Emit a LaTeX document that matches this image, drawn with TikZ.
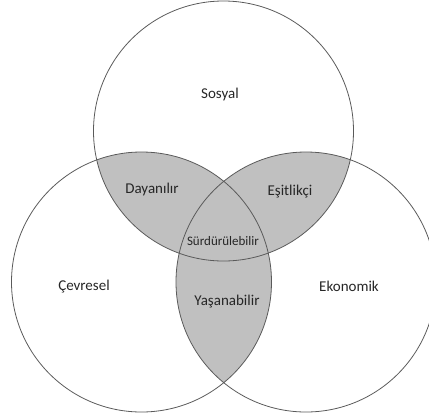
\documentclass[tikz,border=0pt]{standalone}
\usepackage{fontspec}
\setmainfont{Carlito}
\definecolor{lens}{HTML}{C0C0C0}
\definecolor{rim}{HTML}{5A5A5A}
\tikzset{
    ring/.style={draw=rim, line width=0.8pt},
    lbl/.style={font=\fontsize{15}{17}\selectfont, text=black!85},
}
\begin{document}
\begin{tikzpicture}[x=1pt, y=-1pt]
    \useasboundingbox (0,0) rectangle (429,416);

    % Circle centres
    \coordinate (sos) at (223.5,131);
    \coordinate (cev) at (141.5,282);
    \coordinate (eko) at (306,282);

    % Shade the pairwise overlaps (the centre is covered by all three)
    \begin{scope}
        \clip (sos) circle [radius=130pt];
        \fill[lens] (cev) circle [radius=130pt];
        \fill[lens] (eko) circle [radius=130pt];
    \end{scope}
    \begin{scope}
        \clip (cev) circle [radius=130pt];
        \fill[lens] (eko) circle [radius=130pt];
    \end{scope}

    % Draw the three circles
    \draw[ring] (sos) circle [radius=130pt];
    \draw[ring] (cev) circle [radius=130pt];
    \draw[ring] (eko) circle [radius=130pt];

    % Labels
    \node[lbl] (sosyal) at (220,94) {Sosyal};
    \node[lbl] (cevresel) at (84,287) {Çevresel};
    \node[lbl] (ekonomik) at (349,286) {Ekonomik};
    \node[lbl] (dayanilir) at (152,189) {Dayanılır};
    \node[lbl] (esitlikci) at (290,192) {Eşitlikçi};
    \node[lbl] (yasanabilir) at (227,302) {Yaşanabilir};
    \node[lbl, font=\fontsize{13}{15}\selectfont] (surdurulebilir) at (223,241) {Sürdürülebilir};
\end{tikzpicture}
\end{document}
